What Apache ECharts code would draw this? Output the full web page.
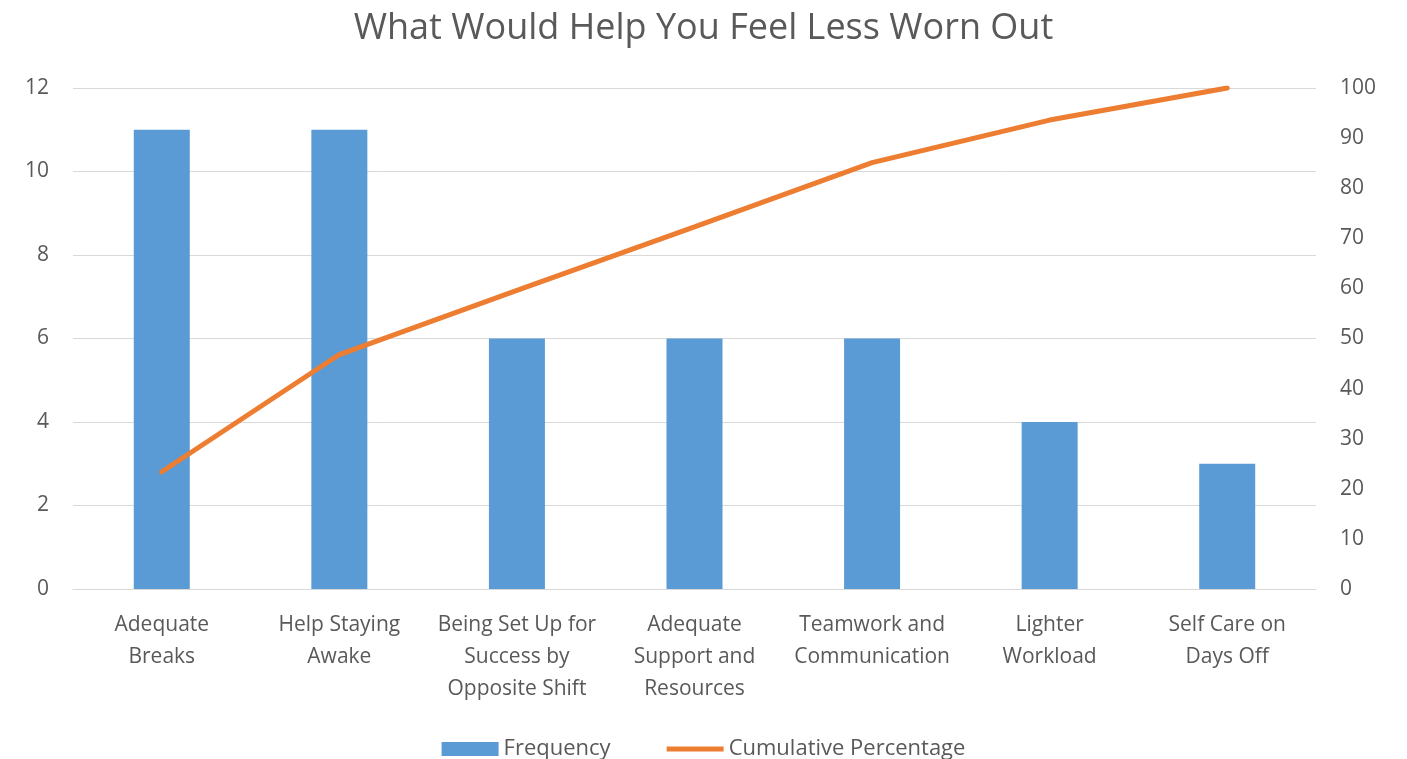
<!DOCTYPE html>
<html>
<head>
<meta charset="utf-8">
<script src="https://cdn.jsdelivr.net/npm/echarts@6/dist/echarts.min.js"></script>
<style>
  html, body { margin: 0; padding: 0; background: #fff; }
  #chart { width: 1407px; height: 759px; }
</style>
</head>
<body>
<div id="chart"></div>
<script>
// Survey responses, sorted by frequency (Pareto order)
const categories = [
  'Adequate\nBreaks',
  'Help Staying\nAwake',
  'Being Set Up for\nSuccess by\nOpposite Shift',
  'Adequate\nSupport and\nResources',
  'Teamwork and\nCommunication',
  'Lighter\nWorkload',
  'Self Care on\nDays Off'
];
const frequency = [11, 11, 6, 6, 6, 4, 3];
const cumulativePct = [23.4, 46.8, 59.6, 72.3, 85.1, 93.6, 100];

const FONT = '"Open Sans", "Liberation Sans", sans-serif';
const TXT = '#595959';

const chart = echarts.init(document.getElementById('chart'));
chart.setOption({
  backgroundColor: '#ffffff',
  animation: false,
  textStyle: { fontFamily: FONT },
  title: {
    text: 'What Would Help You Feel Less Worn Out',
    left: 'center',
    top: 6,
    textStyle: { fontFamily: FONT, fontSize: 36, fontWeight: 'normal', color: TXT }
  },
  legend: {
    top: 733,
    left: 'center',
    itemGap: 56,
    itemWidth: 57,
    itemHeight: 14,
    textStyle: { fontFamily: FONT, fontSize: 22, color: TXT },
    data: [
      { name: 'Frequency', icon: 'rect' },
      { name: 'Cumulative Percentage', icon: 'path://M0,0 L57,0 L57,5 L0,5 Z' }
    ]
  },
  grid: { left: 73, right: 91, top: 88, bottom: 170, containLabel: false },
  xAxis: {
    type: 'category',
    data: categories,
    axisLine: { lineStyle: { color: '#d9d9d9', width: 1 } },
    axisTick: { show: false },
    axisLabel: {
      interval: 0,
      margin: 20,
      lineHeight: 32,
      fontFamily: FONT,
      fontSize: 21,
      color: TXT
    }
  },
  yAxis: [
    {
      type: 'value',
      min: 0, max: 12, interval: 2,
      axisLine: { show: false },
      axisTick: { show: false },
      splitLine: { lineStyle: { color: '#d9d9d9', width: 1 } },
      axisLabel: { margin: 24, fontFamily: FONT, fontSize: 21, color: TXT }
    },
    {
      type: 'value',
      min: 0, max: 100, interval: 10,
      axisLine: { show: false },
      axisTick: { show: false },
      splitLine: { show: false },
      axisLabel: { margin: 24, fontFamily: FONT, fontSize: 21, color: TXT }
    }
  ],
  series: [
    {
      name: 'Frequency',
      type: 'bar',
      data: frequency,
      barWidth: 56,
      itemStyle: { color: '#5B9BD5' }
    },
    {
      name: 'Cumulative Percentage',
      type: 'line',
      yAxisIndex: 1,
      data: cumulativePct,
      symbol: 'none',
      lineStyle: { color: '#ED7D31', width: 5, cap: 'round' },
      itemStyle: { color: '#ED7D31' }
    }
  ]
});
</script>
</body>
</html>
